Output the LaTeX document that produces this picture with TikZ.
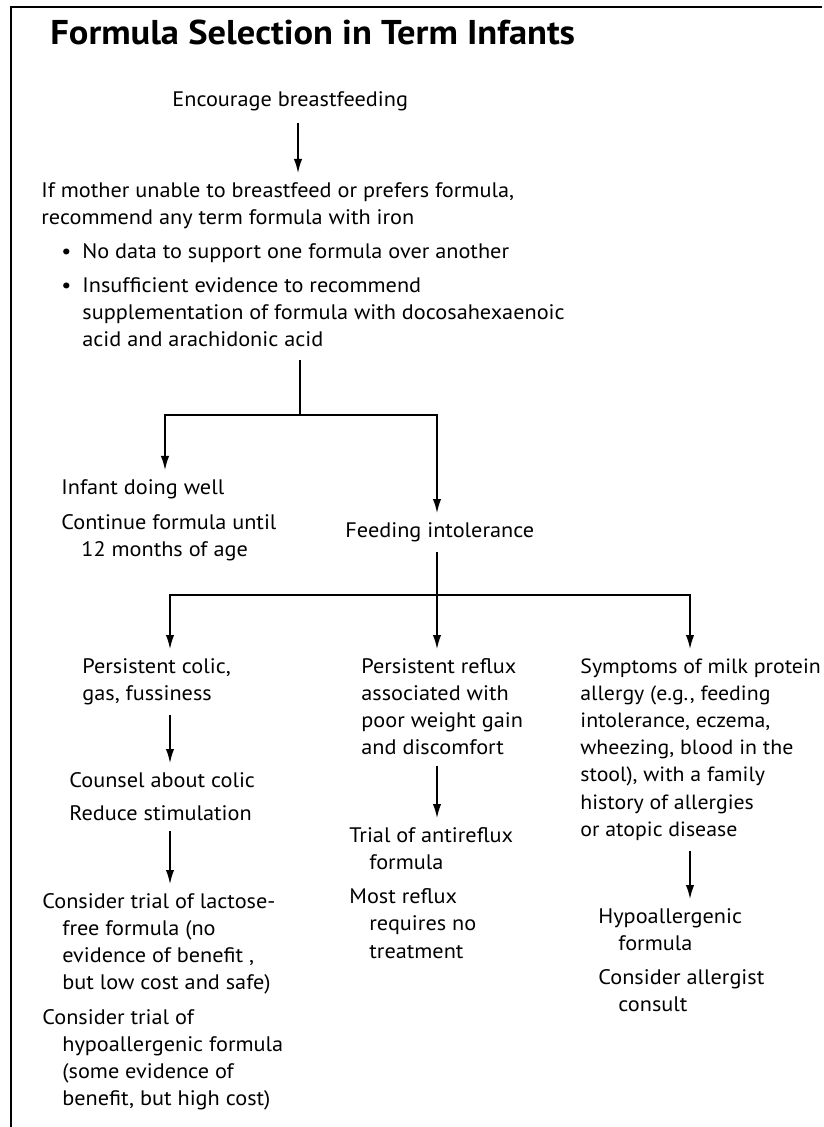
\documentclass[tikz,border=0pt]{standalone}
\usepackage{fontspec}
\setmainfont{PT Sans}[FakeStretch=1.06]
\usetikzlibrary{positioning,arrows.meta}
\newcommand{\ind}{\hspace*{10pt}}
\newcommand{\bul}{\makebox[10.5pt][l]{\textbullet}}

\begin{document}
\begin{tikzpicture}[x=0.5pt,y=-0.5pt,
     txt/.style={inner sep=0pt,anchor=north west,align=left,font=\fontsize{10.5}{13.6}\selectfont},
     link/.style={line width=0.75pt},
     flow/.style={line width=0.75pt,-{Latex[length=7pt,width=4.2pt]},shorten >=4.5pt}]
\useasboundingbox (0,0) rectangle (823,1127);
% frame
\draw[line width=1.2pt] (11,1127) -- (11,7) -- (822,7);

\node[txt,font=\fontsize{17.2}{19}\selectfont\bfseries] (ttl) at (50,20) {Formula Selection in Term Infants};

\node[txt] (enc) at (172,91) {Encourage breastfeeding};
\node[txt] (ifm) at (41,182) {If mother unable to breastfeed or prefers formula,\\recommend any term formula with iron};
\node[txt] (bul) at (61,243) {\bul No data to support one formula over another\\[3.5pt]
      \bul Insufficient evidence to recommend\\
      \hspace*{10.5pt}supplementation of formula with docosahexaenoic\\
      \hspace*{10.5pt}acid and arachidonic acid};

\node[txt] (infant) at (61,479) {Infant doing well\\[4pt]Continue formula until\\\ind 12 months of age};
\node[txt] (feed) at (345,522) {Feeding intolerance};

\node[txt] (colic) at (82,658) {Persistent colic,\\gas, fussiness};
\node[txt] (counsel) at (69,772) {Counsel about colic\\[3pt]Reduce stimulation};
\node[txt] (lact) at (42,893) {Consider trial of lactose-\\\ind free formula (no\\\ind evidence of benefit ,\\\ind but low cost and safe)\\[3.5pt]
      Consider trial of\\\ind hypoallergenic formula\\\ind (some evidence of\\\ind benefit, but high cost)};

\node[txt] (reflux) at (361,658) {Persistent reflux\\associated with\\poor weight gain\\and discomfort};
\node[txt] (anti) at (349,827) {Trial of antireflux\\\ind formula\\[3.5pt]Most reflux\\\ind requires no\\\ind treatment};

\node[txt,font=\fontsize{10.3}{13.6}\selectfont] (allergy) at (580,658) {Symptoms of milk protein\\allergy (e.g., feeding\\intolerance, eczema,\\wheezing, blood in the\\stool), with a family\\history of allergies\\or atopic disease};
\node[txt] (hypo) at (598,908) {Hypoallergenic\\\ind formula\\[3.5pt]Consider allergist\\\ind consult};

% columns and joints
\coordinate (c0) at (298,0);
\coordinate (j1) at (300,415);
\coordinate (cl) at (165,0);
\coordinate (cr) at (437,0);
\coordinate (j2) at (437,595);
\coordinate (ca) at (170,0);
\coordinate (cc) at (690,0);

\draw[flow,shorten <=6pt] (enc.south -| c0) -- (ifm.north -| c0);
\draw[link,shorten <=6pt] (bul.south -| j1) -- (j1);
\draw[flow] (j1) -| (infant.north -| cl);
\draw[flow] (j1) -| (feed.north -| cr);
\draw[link,shorten <=5pt] (feed.south -| j2) -- (j2);
\draw[flow] (j2) -| (colic.north -| ca);
\draw[flow] (j2) -- (reflux.north -| cr);
\draw[flow] (j2) -| (allergy.north -| cc);
\draw[flow,shorten <=5pt] (colic.south -| ca) -- (counsel.north -| ca);
\draw[flow,shorten <=5pt] (counsel.south -| ca) -- (lact.north -| ca);
\draw[flow,shorten <=5pt] (reflux.south -| cr) -- (anti.north -| cr);
\draw[flow,shorten <=5pt] (allergy.south -| cc) -- (hypo.north -| cc);
\end{tikzpicture}
\end{document}
